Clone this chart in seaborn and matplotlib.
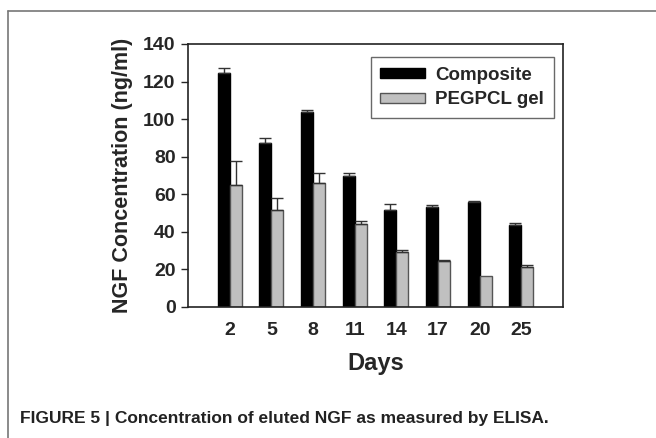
import numpy as np
import pandas as pd
import seaborn as sns
import matplotlib.pyplot as plt
from matplotlib.lines import Line2D
from matplotlib.patches import Patch

days = ["2", "5", "8", "11", "14", "17", "20", "25"]
composite = [124.4, 87.1, 103.9, 69.5, 51.8, 53.4, 55.7, 43.8]
composite_err = [2.6, 3.0, 0.9, 2.0, 3.0, 1.1, 0.7, 0.7]
pegpcl = [65.1, 51.4, 66.2, 44.2, 29.1, 24.5, 16.3, 21.5]
pegpcl_err = [12.6, 6.6, 4.9, 1.7, 1.2, 0.5, 0.0, 0.9]
groups = ["Composite", "PEGPCL gel"]
colors = ["#000000", "#c0c0c0"]

df = pd.DataFrame({
    "Days": days * 2,
    "conc": composite + pegpcl,
    "group": [groups[0]] * len(days) + [groups[1]] * len(days),
})

sns.set_style("white")
plt.rcParams["font.family"] = ["Liberation Sans", "DejaVu Sans"]
plt.rcParams["font.weight"] = "bold"

fig = plt.figure(figsize=(6.56, 4.38), dpi=100)
ax = fig.add_axes([0.2866, 0.2991, 0.5716, 0.6005])

sns.barplot(data=df, x="Days", y="conc", hue="group", order=days,
            hue_order=groups, palette=colors, width=0.58, errorbar=None,
            linewidth=1.0, ax=ax, legend=False)

# edges and error bars (upper only)
errs = composite_err + pegpcl_err
edges = ["#000000", "#555555"]
for i, p in enumerate(ax.patches[:2 * len(days)]):
    p.set_edgecolor(edges[i // len(days)])
    xc = p.get_x() + p.get_width() / 2
    h = p.get_height()
    if errs[i] > 0:
        ax.errorbar(xc, h, yerr=[[0], [errs[i]]], fmt="none",
                    ecolor="#333333", elinewidth=1.0, capsize=4, capthick=1.0)

ax.set_xlim(-1, len(days))
ax.set_ylim(0, 140)
ax.set_yticks(range(0, 141, 20))
ax.tick_params(axis="y", direction="out", length=5, width=1, left=True,
               labelsize=14, pad=4)
ax.tick_params(axis="x", length=0, labelsize=14, pad=11)
for lab in ax.get_xticklabels() + ax.get_yticklabels():
    lab.set_fontweight("bold")
for s in ax.spines.values():
    s.set_visible(True)
    s.set_color("#222222")
    s.set_linewidth(1.2)

ax.set_xlabel("Days", fontsize=17, fontweight="bold", labelpad=9)
ax.set_ylabel("NGF Concentration (ng/ml)", fontsize=15.5, fontweight="bold",
              labelpad=7)

handles = [Patch(facecolor=colors[0], edgecolor="#000000"),
           Patch(facecolor=colors[1], edgecolor="#555555")]
leg = ax.legend(handles, groups, loc="upper right",
                bbox_to_anchor=(0.99, 0.97), fancybox=False,
                edgecolor="#444444", handlelength=2.4, handleheight=0.45,
                handletextpad=0.55, borderpad=0.5, labelspacing=0.4,
                borderaxespad=0.3,
                prop={"weight": "bold", "size": 13.5})
leg.get_frame().set_linewidth(1.0)

# outer figure frame (left and top)
fig.add_artist(Line2D([8 / 656, 8 / 656], [0, 1 - 11 / 438],
                      color="#777777", lw=1.2))
fig.add_artist(Line2D([8 / 656, 1], [1 - 11 / 438, 1 - 11 / 438],
                      color="#777777", lw=1.2))

fig.text(20 / 656, 1 - 418 / 438,
         "FIGURE 5 | Concentration of eluted NGF as measured by ELISA.",
         fontsize=12.5, fontweight="bold", color="#222222", va="center",
         family=["Liberation Sans Narrow", "Liberation Sans", "DejaVu Sans"])

fig.savefig("out.png", dpi=100)
